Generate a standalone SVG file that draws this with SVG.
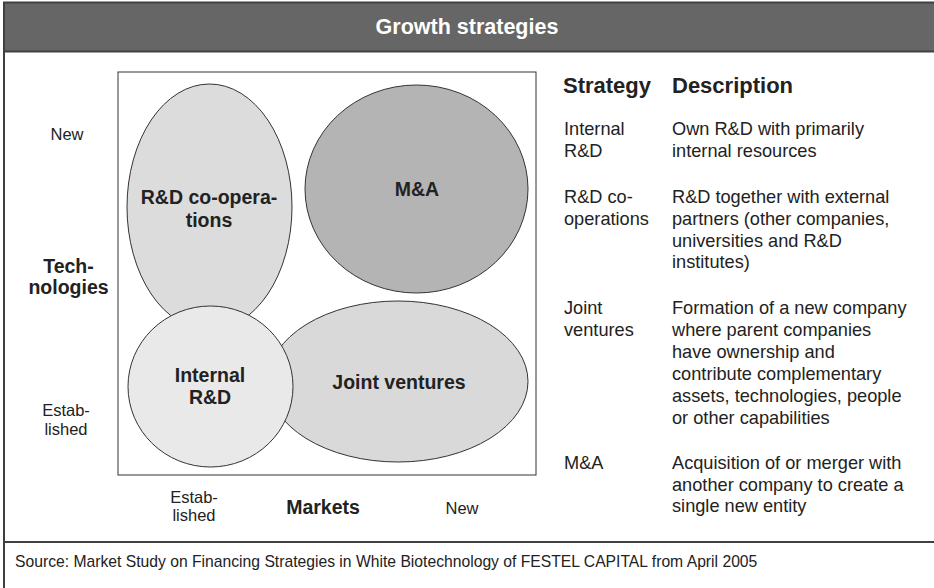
<svg xmlns="http://www.w3.org/2000/svg" width="934" height="588" viewBox="0 0 934 588">
<style>
text{font-family:"Liberation Sans",Arial,sans-serif;fill:#222}
.b{font-weight:bold}
.lbl{font-size:19.5px;font-weight:bold;text-anchor:middle}
.ax{font-size:16.5px;text-anchor:middle}
.t{font-size:18.2px}
.h{font-size:22px;font-weight:bold}
.ell{stroke:#333;stroke-width:1}
</style>
<rect x="0" y="0" width="934" height="588" fill="#fff"/>
<g id="frame">
<rect x="4" y="2.5" width="932" height="49" fill="#666" stroke="#404040" stroke-width="2"/>
<line x1="4" y1="51" x2="4" y2="588" stroke="#404040" stroke-width="2"/>
<line x1="4" y1="542" x2="934" y2="542" stroke="#404040" stroke-width="2"/>
<text x="467" y="34" text-anchor="middle" style="font-size:21.5px;font-weight:bold;fill:#fff">Growth strategies</text>
</g>
<g id="matrix">
<rect x="118" y="72" width="418" height="403" fill="#fff" stroke="#333" stroke-width="1"/>
</g>
<g id="connectors"></g>
<g id="node-coop">
<ellipse class="ell" cx="209.5" cy="207" rx="82.5" ry="123" fill="#dcdcdc"/>
<text class="lbl" x="209" y="204">R&amp;D co-opera-</text>
<text class="lbl" x="209" y="227">tions</text>
</g>
<g id="node-ma">
<ellipse class="ell" cx="416.5" cy="189" rx="111.5" ry="104" fill="#b4b4b4"/>
<text class="lbl" x="417" y="196">M&amp;A</text>
</g>
<g id="node-jv">
<ellipse class="ell" cx="398" cy="381.5" rx="130" ry="80.5" fill="#d9d9d9"/>
<text class="lbl" x="399" y="389">Joint ventures</text>
</g>
<g id="node-internal">
<ellipse class="ell" cx="210.5" cy="386.5" rx="82.5" ry="80.5" fill="#e9e9e9"/>
<text class="lbl" x="210" y="382">Internal</text>
<text class="lbl" x="210" y="404">R&amp;D</text>
</g>
<g id="axes">
<text class="ax" x="67" y="140">New</text>
<text class="lbl" x="68.5" y="273">Tech-</text>
<text class="lbl" x="68.5" y="294">nologies</text>
<text class="ax" x="66" y="416">Estab-</text>
<text class="ax" x="66" y="435">lished</text>
<text class="ax" x="194" y="503">Estab-</text>
<text class="ax" x="194" y="521">lished</text>
<text class="lbl" x="323" y="514">Markets</text>
<text class="ax" x="462" y="514">New</text>
</g>
<g id="table">
<text class="h" x="563" y="93">Strategy</text>
<text class="h" x="672" y="93">Description</text>
<text class="t" x="564" y="135">Internal</text>
<text class="t" x="564" y="157">R&amp;D</text>
<text class="t" x="672" y="135">Own R&amp;D with primarily</text>
<text class="t" x="672" y="157">internal resources</text>
<text class="t" x="564" y="203">R&amp;D co-</text>
<text class="t" x="564" y="225">operations</text>
<text class="t" x="672" y="203">R&amp;D together with external</text>
<text class="t" x="672" y="225">partners (other companies,</text>
<text class="t" x="672" y="247">universities and R&amp;D</text>
<text class="t" x="672" y="268">institutes)</text>
<text class="t" x="564" y="314">Joint</text>
<text class="t" x="564" y="336">ventures</text>
<text class="t" x="672" y="314">Formation of a new company</text>
<text class="t" x="672" y="336">where parent companies</text>
<text class="t" x="672" y="358">have ownership and</text>
<text class="t" x="672" y="380">contribute complementary</text>
<text class="t" x="672" y="402">assets, technologies, people</text>
<text class="t" x="672" y="424">or other capabilities</text>
<text class="t" x="564" y="469">M&amp;A</text>
<text class="t" x="672" y="469">Acquisition of or merger with</text>
<text class="t" x="672" y="491">another company to create a</text>
<text class="t" x="672" y="512">single new entity</text>
</g>
<g id="footer">
<text x="15" y="567" style="font-size:15.7px">Source: Market Study on Financing Strategies in White Biotechnology of FESTEL CAPITAL from April 2005</text>
</g>
</svg>
